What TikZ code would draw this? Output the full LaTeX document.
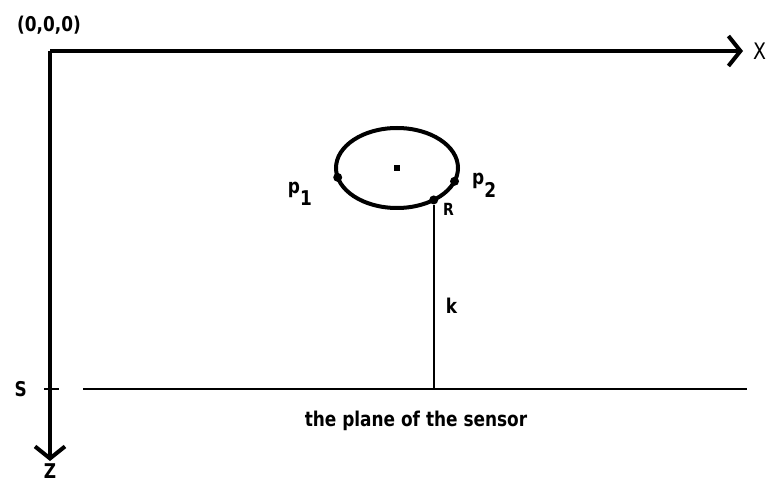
\documentclass[tikz,border=0pt]{standalone}
\usepackage{fontspec}
\setmainfont{DejaVu Sans}
\usepackage{graphicx}
\usepackage{tikz}
\usetikzlibrary{shapes,arrows.meta,positioning}
\newcommand{\tl}[1]{\scalebox{1}[1.2]{#1}}
\tikzset{
  axis/.style={line width=4bp, -{Straight Barb[length=12bp,width=30bp]}},
  lbl/.style={font=\fontsize{17}{20}\selectfont\bfseries, inner sep=1bp},
  ring/.style={ellipse, draw, line width=4bp, minimum width=122bp,
               minimum height=80bp, inner sep=0pt, outer sep=0pt},
  dot/.style={circle, fill, inner sep=0pt, minimum size=9bp},
  planeline/.style={line width=2bp},
}
\begin{document}
\begin{tikzpicture}[x=1bp, y=-1bp, node distance=8bp]
    \useasboundingbox (0,0) rectangle (770,485);
    % axes
    \coordinate (o)    at (50,51);
    \coordinate (xend) at (743,51);
    \coordinate (zend) at (50,461);
    \draw[axis] (o)--(xend); \draw[axis] (o)--(zend);
    \node[lbl] (orig) at (49,25) {\tl{(0,0,0)}};
    \node[lbl, font=\fontsize{19}{22}\selectfont, right=9bp of xend] (xl) {\tl{X}};
    \node[lbl, below=1bp of zend] (zl) {\tl{Z}};
    % sensor plane
    \coordinate (s)  at (50,389);
    \coordinate (s1) at (44,389);
    \coordinate (s2) at (59,389);
    \coordinate (pl) at (83,389);
    \coordinate (pr) at (747,389);
    \draw[line width=1.3bp] (s1)--(s2);
    \node[lbl, left=22bp of s] (sl) {\tl{S}};
    \draw[planeline] (pl)--(pr);
    \node[lbl] (plane) at (416,421) {\tl{the plane of the sensor}};
    % object
    \node[ring] (obj) at (397,168) {};
    \fill ([xshift=-3bp,yshift=-3bp]obj.center) rectangle ([xshift=3bp,yshift=3bp]obj.center);
    \node[dot] (p1) at (obj.189) {};
    \node[dot] (p2) at (obj.347) {};
    \node[dot] (rr) at (obj.319) {};
    \node[lbl, anchor=base east] (p1l) at (313,194) {\tl{p}\raisebox{-12bp}{\tl{1}}};
    \node[lbl, anchor=base west] (p2l) at (471,185) {\tl{p}\raisebox{-13bp}{\tl{2}}};
    \node[lbl, font=\fontsize{14}{16}\selectfont\bfseries, anchor=north west] (rl) at (442,202) {\tl{R}};
    % distance k
    \coordinate (foot) at (rr |- pl);
    \draw[line width=2.4bp] (rr)--(foot)
      node[lbl, pos=0.55, right=10bp] (kl) {\tl{k}};
  \end{tikzpicture}
\end{document}
